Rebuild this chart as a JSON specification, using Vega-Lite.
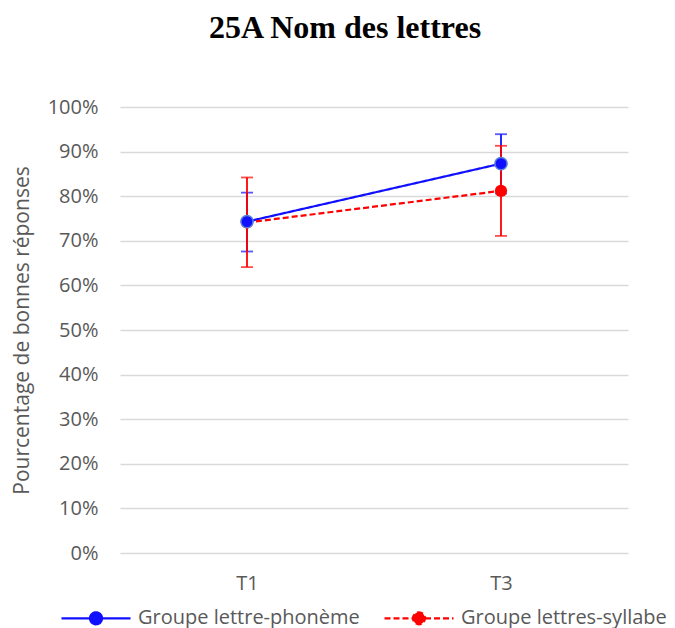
{
  "$schema": "https://vega.github.io/schema/vega-lite/v6.json",
  "width": 508,
  "height": 446,
  "autosize": "none",
  "padding": {"left": 120, "top": 107, "right": 47, "bottom": 75},
  "background": "white",
  "title": {
    "text": "25A Nom des lettres",
    "font": "Liberation Serif",
    "fontSize": 32,
    "fontWeight": "bold",
    "color": "#000000",
    "anchor": "middle",
    "offset": 52,
    "dx": -29
  },
  "data": {
    "values": [
      {"group": "Groupe lettre-phonème", "time": "T1", "mean": 0.743, "low": 0.676, "high": 0.808},
      {"group": "Groupe lettre-phonème", "time": "T3", "mean": 0.873, "low": 0.806, "high": 0.939},
      {"group": "Groupe lettres-syllabe", "time": "T1", "mean": 0.741, "low": 0.641, "high": 0.842},
      {"group": "Groupe lettres-syllabe", "time": "T3", "mean": 0.812, "low": 0.711, "high": 0.913}
    ]
  },
  "config": {
    "view": {"stroke": null},
    "axis": {
      "labelFont": "Open Sans",
      "titleFont": "Open Sans",
      "labelColor": "#595959",
      "titleColor": "#595959",
      "titleFontWeight": "normal",
      "domain": false,
      "ticks": false
    }
  },
  "encoding": {
    "x": {
      "field": "time",
      "type": "nominal",
      "scale": {"type": "point", "padding": 0.5},
      "axis": {"title": null, "labelAngle": 0, "labelPadding": 20, "grid": false, "labelFontSize": 20}
    }
  },
  "layer": [
    {
      "mark": {"type": "line", "strokeWidth": 2.2},
      "encoding": {
        "y": {
          "field": "mean",
          "type": "quantitative",
          "scale": {"domain": [0, 1]},
          "axis": {
            "title": "Pourcentage de bonnes réponses",
            "format": ".0%",
            "values": [0, 0.1, 0.2, 0.3, 0.4, 0.5, 0.6, 0.7, 0.8, 0.9, 1],
            "labelOverlap": false,
            "labelFontSize": 20,
            "titleFontSize": 21,
            "labelPadding": 22,
            "titlePadding": 15,
            "gridColor": "#d9d9d9",
            "gridWidth": 1.5
          }
        },
        "color": {
          "field": "group",
          "type": "nominal",
          "scale": {"domain": ["Groupe lettre-phonème", "Groupe lettres-syllabe"], "range": ["#1010FF", "#FF0000"]},
          "legend": {
            "title": null,
            "orient": "none",
            "direction": "horizontal",
            "legendX": -60,
            "legendY": 475,
            "symbolType": "M-1,0H-0.174A0.174,0.174 0 1,1 0.174,0A0.174,0.174 0 1,1 -0.174,0M0.174,0H1",
            "symbolSize": 4761,
            "symbolStrokeWidth": 2.2,
            "labelOffset": 6,
            "columnPadding": 20,
            "labelLimit": 400,
            "labelFont": "Open Sans",
            "labelFontSize": 20,
            "labelColor": "#595959",
            "encode": {
              "symbols": {"update": {"fill": {"scale": "color", "field": "value"}}}
            }
          }
        },
        "strokeDash": {
          "field": "group",
          "type": "nominal",
          "scale": {"domain": ["Groupe lettre-phonème", "Groupe lettres-syllabe"], "range": [[1, 0], [6, 3]]},
          "legend": null
        }
      }
    },
    {
      "transform": [{"filter": "datum.group === 'Groupe lettre-phonème'"}],
      "layer": [
        {
          "mark": {"type": "rule", "strokeWidth": 1.8, "color": "#1010FF"},
          "encoding": {"y": {"field": "low", "type": "quantitative"}, "y2": {"field": "high"}}
        },
        {
          "mark": {"type": "tick", "size": 12, "thickness": 1.8, "color": "#1010FF"},
          "encoding": {"y": {"field": "low", "type": "quantitative"}}
        },
        {
          "mark": {"type": "tick", "size": 12, "thickness": 1.8, "color": "#1010FF"},
          "encoding": {"y": {"field": "high", "type": "quantitative"}}
        }
      ]
    },
    {
      "transform": [{"filter": "datum.group === 'Groupe lettres-syllabe'"}],
      "layer": [
        {
          "mark": {"type": "rule", "strokeWidth": 1.8, "color": "#FF0000"},
          "encoding": {"y": {"field": "low", "type": "quantitative"}, "y2": {"field": "high"}}
        },
        {
          "mark": {"type": "tick", "size": 12, "thickness": 1.8, "color": "#FF0000"},
          "encoding": {"y": {"field": "low", "type": "quantitative"}}
        },
        {
          "mark": {"type": "tick", "size": 12, "thickness": 1.8, "color": "#FF0000"},
          "encoding": {"y": {"field": "high", "type": "quantitative"}}
        },
        {
          "mark": {"type": "point", "filled": true, "size": 150, "color": "#FF0000", "opacity": 1},
          "encoding": {"y": {"field": "mean", "type": "quantitative"}}
        }
      ]
    },
    {
      "transform": [{"filter": "datum.group === 'Groupe lettre-phonème'"}],
      "mark": {"type": "point", "filled": true, "size": 150, "fill": "#1010FF", "stroke": "#5a7fd6", "strokeWidth": 1.5, "opacity": 1},
      "encoding": {"y": {"field": "mean", "type": "quantitative"}}
    }
  ]
}
